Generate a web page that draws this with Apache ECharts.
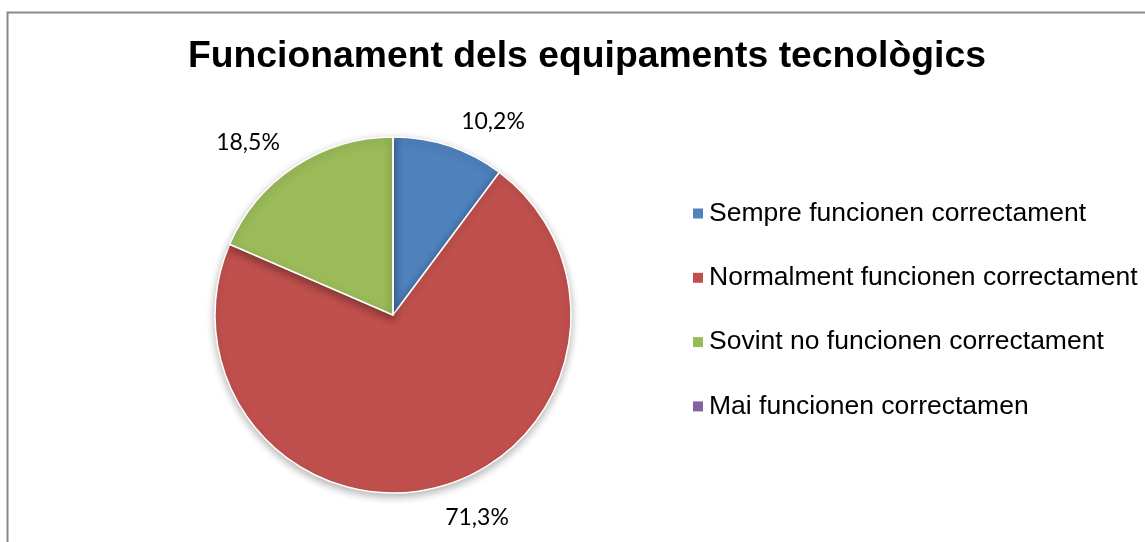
<!DOCTYPE html>
<html>
<head>
<meta charset="utf-8">
<script src="https://cdn.jsdelivr.net/npm/echarts@6/dist/echarts.min.js"></script>
<style>
  html, body { margin: 0; padding: 0; background: #fff; }
  #chart { width: 1145px; height: 542px; }
</style>
</head>
<body>
<div id="chart"></div>
<script>
// data
const categories = [
    'Sempre funcionen correctament',
    'Normalment funcionen correctament',
    'Sovint no funcionen correctament',
    'Mai funcionen correctamen'
];
const values = [10.2, 71.3, 18.5, 0];
const colors = ['#4F81BD', '#C0504D', '#9BBB59', '#8064A2'];

// where Excel put the percent labels
const labelPos = [[493, 122], [477, 518], [248, 143], [393, 120]];

const chart = echarts.init(document.getElementById('chart'));

chart.setOption({
    animation: false,
    color: colors,
    title: {
        text: 'Funcionament dels equipaments tecnològics',
        left: 183,
        top: 33,
        textStyle: {
            fontFamily: 'Liberation Sans',
            fontWeight: 'bold',
            fontSize: 37.3,
            color: '#000'
        }
    },
    graphic: [{
        type: 'rect',
        shape: { x: 7.5, y: 12.5, width: 1200, height: 600 },
        style: { fill: 'none', stroke: '#898989', lineWidth: 2 },
        silent: true
    }],
    legend: {
        orient: 'vertical',
        left: 688,
        top: 195,
        itemGap: 37.3,
        itemWidth: 10,
        itemHeight: 10,
        icon: 'rect',
        itemStyle: { borderWidth: 0, shadowBlur: 0, shadowOffsetY: 0 },
        data: categories,
        textStyle: {
            fontFamily: 'Liberation Sans',
            fontSize: 26.5,
            color: '#000',
            padding: [0, 0, 0, 1]
        }
    },
    series: [{
        type: 'pie',
        center: [393, 315],
        radius: [0, 178],
        startAngle: 90,
        clockwise: true,
        data: categories.map((name, i) => ({ name: name, value: values[i] })),
        itemStyle: {
            borderColor: '#fff',
            borderWidth: 1.5,
            shadowBlur: 8,
            shadowOffsetY: 3,
            shadowColor: 'rgba(0,0,0,0.3)'
        },
        label: {
            show: true,
            position: 'outside',
            formatter: p => p.value > 0 ? p.value.toFixed(1).replace('.', ',') + '%' : '',
            fontFamily: 'Lato',
            fontSize: 23,
            color: '#000'
        },
        labelLine: { show: false },
        labelLayout: p => ({
            x: labelPos[p.dataIndex][0],
            y: labelPos[p.dataIndex][1],
            align: 'center',
            verticalAlign: 'middle'
        }),
        emphasis: { disabled: true }
    }]
});
</script>
</body>
</html>
